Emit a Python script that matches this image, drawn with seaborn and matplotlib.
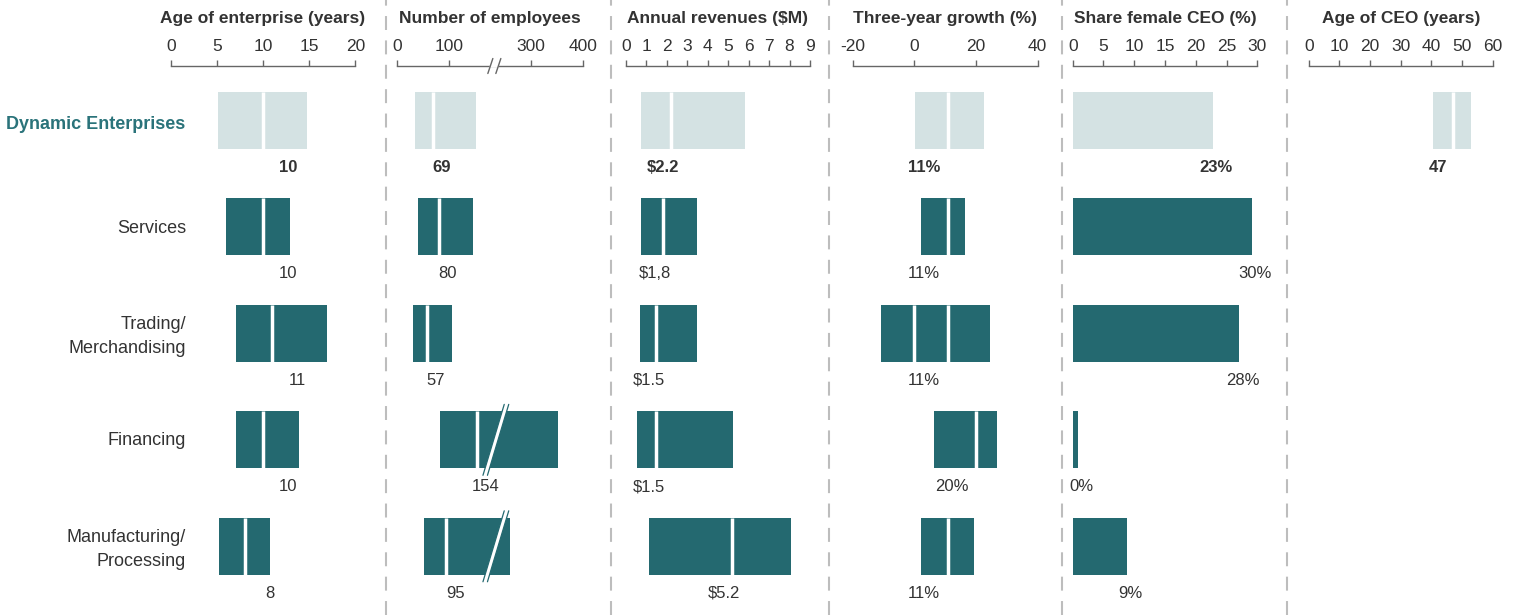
import matplotlib
matplotlib.use("Agg")
import matplotlib.pyplot as plt
import matplotlib.transforms as mtransforms
from matplotlib.lines import Line2D
from matplotlib.patches import Polygon
import numpy as np
import seaborn as sns

categories = ["Dynamic Enterprises", "Services", "Trading/\nMerchandising",
              "Financing", "Manufacturing/\nProcessing"]

# interquartile ranges and medians
age_low = [5.1, 6.0, 7.1, 7.1, 5.2]
age_high = [14.8, 12.9, 16.9, 13.9, 10.8]
age_median = [10, 10, 11, 10, 8]
age_labels = ["10", "10", "11", "10", "8"]

emp_low = [34, 40, 31, 83, 52]
emp_high = [153, 146, 106, 352, 259]
emp_median = [69, 80, 57, 154, 95]
emp_labels = ["69", "80", "57", "154", "95"]

rev_low = [0.75, 0.76, 0.68, 0.54, 1.15]
rev_high = [5.84, 3.5, 3.46, 5.25, 8.05]
rev_median = [2.2, 1.8, 1.5, 1.5, 5.2]
rev_labels = ["$2.2", "$1,8", "$1.5", "$1.5", "$5.2"]

growth_low = [0.3, 2.2, -10.7, 6.4, 2.2]
growth_high = [22.6, 16.3, 24.6, 26.7, 19.4]
growth_median = [11, 11, 11, 20, 11]
growth_labels = ["11%", "11%", "11%", "20%", "11%"]

female_share = [22.8, 29.2, 27.1, 0.9, 8.9]
female_labels = ["23%", "30%", "28%", "0%", "9%"]

ceo_low = [40.5]
ceo_high = [52.8]
ceo_median = [47]
ceo_labels = ["47"]

age_ticks = [0, 5, 10, 15, 20]
emp_ticks = [0, 100, 300, 400]
rev_ticks = list(range(10))
growth_ticks = [-20, 0, 20, 40]
female_ticks = [0, 5, 10, 15, 20, 25, 30]
ceo_ticks = [0, 10, 20, 30, 40, 50, 60]

EMP_BREAK = 205

DARK = "#246970"
LIGHT = "#d4e2e3"
TEAL_TEXT = "#2a737a"
TEXT = "#333333"
AXIS = "#666666"
bar_colors = [LIGHT] + [DARK] * 4

sns.set_style("white")
plt.rcParams["font.family"] = ["Liberation Sans", "DejaVu Sans"]

W, H = 1520, 615
AX_TOP = 66
ROW_PX = 106.45
ROW0 = 120.5
BAR_H = 0.535
LABEL_DY = 0.44
rows = np.arange(len(categories))
ylim = ((H - ROW0) / ROW_PX, (AX_TOP - ROW0) / ROW_PX)


def emp_fwd(v):
    v = np.asarray(v, dtype=float)
    return np.where(v <= 180, v, np.where(v < 240, 180 + (v - 180) * 19 / 60, v - 41))


def emp_inv(d):
    d = np.asarray(d, dtype=float)
    return np.where(d <= 180, d, np.where(d < 199, 180 + (d - 180) * 60 / 19, d + 41))


fig = plt.figure(figsize=(W / 100, H / 100), dpi=100)


def style_axes(ax, title, lim, ticks, ticklabels=None):
    ax.set_xlim(*lim)
    ax.set_ylim(*ylim)
    for s in ["left", "right", "bottom"]:
        ax.spines[s].set_visible(False)
    ax.spines["top"].set_color(AXIS)
    ax.spines["top"].set_linewidth(1)
    ax.xaxis.tick_top()
    ax.set_xticks(ticks)
    ax.set_xticklabels(ticklabels if ticklabels else [str(t) for t in ticks])
    ax.tick_params(axis="x", direction="out", length=4.3, width=1, color=AXIS,
                   labelsize=12.5, labelcolor=TEXT, pad=4)
    ax.set_yticks([])
    ax.set_xlabel("")
    ax.set_ylabel("")
    ax.text(0.5, 1 + 47 / (H - AX_TOP), title, transform=ax.transAxes, ha="center",
            va="center", fontsize=12.5, fontweight="bold", color=TEXT)


def draw_ranges(ax, low, high, median):
    n = len(low)
    r = rows[:n]
    ax.barh(r, np.subtract(high, low), left=low, height=BAR_H,
            color=bar_colors[:n], edgecolor="none", zorder=2)
    for i in range(n):
        # white cut at the median, and at zero when the bar crosses it
        cuts = [median[i]] + ([0] if low[i] < 0 < high[i] else [])
        ax.vlines(cuts, r[i] - BAR_H / 2, r[i] + BAR_H / 2, color="white", lw=2.5, zorder=3)


def draw_labels(ax, xs, labels, dx_px):
    for i, (x, lab) in enumerate(zip(xs, labels)):
        ax.annotate(lab, xy=(x, rows[i] + LABEL_DY), xytext=(dx_px * 0.72, 0),
                    textcoords="offset points", ha="center", va="center", fontsize=12,
                    fontweight="bold" if i == 0 else "normal", color=TEXT,
                    annotation_clip=False)


# panel 1: age of enterprise
ax1 = fig.add_axes([170.7 / W, 0, 184.6 / W, (H - AX_TOP) / H])
draw_ranges(ax1, age_low, age_high, age_median)
style_axes(ax1, "Age of enterprise (years)", (0, 20), age_ticks)
draw_labels(ax1, age_median, age_labels, 25)

# panel 2: employees, with broken axis
ax2 = fig.add_axes([397.3 / W, 0, 185.4 / W, (H - AX_TOP) / H])
ax2.set_xscale("function", functions=(emp_fwd, emp_inv))
draw_ranges(ax2, emp_low, emp_high, emp_median)
style_axes(ax2, "Number of employees", (0, 400), emp_ticks)
draw_labels(ax2, emp_median, emp_labels, 9)

w_px = 185.4
h_px = H - AX_TOP
xf = float((emp_fwd(EMP_BREAK) - emp_fwd(0)) / (emp_fwd(400) - emp_fwd(0)))
# break on the axis line
ax2.add_patch(Polygon([(xf - 5 / w_px, 1 - 1.5 / h_px), (xf + 4 / w_px, 1 - 1.5 / h_px),
                       (xf + 5 / w_px, 1 + 1.5 / h_px), (xf - 4 / w_px, 1 + 1.5 / h_px)],
                      closed=True, transform=ax2.transAxes, facecolor="white",
                      edgecolor="none", clip_on=False, zorder=5))
for off in (-4, 4):
    ax2.add_line(Line2D([xf + (off - 2.5) / w_px, xf + (off + 2.5) / w_px],
                        [1 - 7.5 / h_px, 1 + 7.5 / h_px], transform=ax2.transAxes,
                        color=AXIS, lw=1, clip_on=False, zorder=6))
# break on the bars that cross it
btrans = mtransforms.blended_transform_factory(ax2.transAxes, ax2.transData)
hh = (BAR_H * ROW_PX / 2 + 7) / ROW_PX
sl = 0.3 * (BAR_H * ROW_PX / 2 + 7)
bw = 4.5
for i in range(len(emp_high)):
    if emp_high[i] > 240:
        xb = xf + 1.5 / w_px
        pts = [(xb + (-sl - bw / 2) / w_px, rows[i] + hh), (xb + (-sl + bw / 2) / w_px, rows[i] + hh),
               (xb + (sl + bw / 2) / w_px, rows[i] - hh), (xb + (sl - bw / 2) / w_px, rows[i] - hh)]
        ax2.add_patch(Polygon(pts, closed=True, transform=btrans, facecolor="white",
                              edgecolor="none", clip_on=False, zorder=5))
        for a, b in ((pts[0], pts[3]), (pts[1], pts[2])):
            ax2.add_line(Line2D([a[0], b[0]], [a[1], b[1]], transform=btrans, color=DARK,
                                lw=0.9, clip_on=False, zorder=6))

# panel 3: revenues
ax3 = fig.add_axes([625.7 / W, 0, 184.3 / W, (H - AX_TOP) / H])
draw_ranges(ax3, rev_low, rev_high, rev_median)
style_axes(ax3, "Annual revenues ($M)", (0, 9), rev_ticks)
draw_labels(ax3, rev_median, rev_labels, -8)

# panel 4: growth
ax4 = fig.add_axes([852.7 / W, 0, 185 / W, (H - AX_TOP) / H])
draw_ranges(ax4, growth_low, growth_high, growth_median)
style_axes(ax4, "Three-year growth (%)", (-20, 40), growth_ticks,
           ["-20", "0", "20", "40"])
draw_labels(ax4, growth_median, growth_labels, -24)

# panel 5: share female CEO
ax5 = fig.add_axes([1072.7 / W, 0, 184.6 / W, (H - AX_TOP) / H])
sns.barplot(x=female_share, y=categories, hue=categories, palette=bar_colors,
            width=BAR_H, legend=False, orient="h", saturation=1, linewidth=0, ax=ax5)
style_axes(ax5, "Share female CEO (%)", (0, 30), female_ticks)
draw_labels(ax5, female_share, female_labels, 3)

# panel 6: age of CEO
ax6 = fig.add_axes([1308.7 / W, 0, 184 / W, (H - AX_TOP) / H])
draw_ranges(ax6, ceo_low, ceo_high, ceo_median)
style_axes(ax6, "Age of CEO (years)", (0, 60), ceo_ticks)
draw_labels(ax6, ceo_median, ceo_labels, -15)

# row labels
rtrans = mtransforms.blended_transform_factory(fig.transFigure, ax1.transData)
for i, cat in enumerate(categories):
    if i == 0:
        fig.text(185 / W, rows[i] + 0.04, cat, transform=rtrans, ha="right", va="center",
                 fontsize=13, fontweight="bold", color=TEAL_TEXT)
    else:
        dy = 0.03 if "\n" in cat else 0.01
        fig.text(186 / W, rows[i] + dy, cat, transform=rtrans, ha="right", va="center",
                 multialignment="right", linespacing=1.55, fontsize=13, color=TEXT)

# dashed separators between panels
for xs in [385.7, 611, 829.3, 1061.7, 1286.7]:
    fig.add_artist(Line2D([xs / W, xs / W], [0, 1], transform=fig.transFigure,
                          color="#bdbdbd", lw=1.5, ls=(0, (6.7, 5))))

fig.savefig("out.png", dpi=100)
